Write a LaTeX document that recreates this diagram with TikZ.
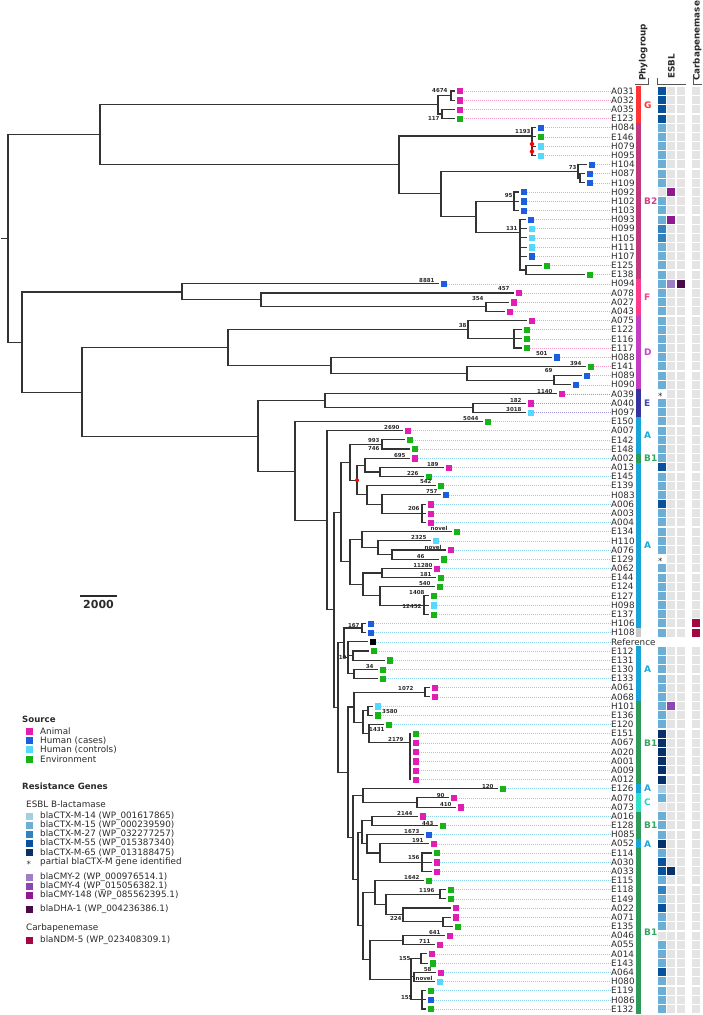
\documentclass[tikz,border=0pt]{standalone}
\usepackage{fontspec}
\setmainfont{DejaVu Sans}
\usetikzlibrary{shapes.geometric}
% source colours
\definecolor{cAn}{HTML}{E11DB4}
\definecolor{cHc}{HTML}{1A5FE0}
\definecolor{cHk}{HTML}{55D8FF}
\definecolor{cEnv}{HTML}{17B317}
\definecolor{cRef}{HTML}{000000}
\definecolor{cGy}{HTML}{E4E4E4}
\colorlet{cnone}{white}
% resistance genes
\definecolor{cK14}{HTML}{A6CEE3}
\definecolor{cK15}{HTML}{6BAED6}
\definecolor{cK27}{HTML}{3182BD}
\definecolor{cK55}{HTML}{08519C}
\definecolor{cK65}{HTML}{08306B}
\definecolor{cC2}{HTML}{9E7FC5}
\definecolor{cC4}{HTML}{8E45B0}
\definecolor{cC148}{HTML}{8F1A8F}
\definecolor{cD1}{HTML}{4A0A4A}
\definecolor{cNd5}{HTML}{A10741}
% phylogroups
\definecolor{pgG}{HTML}{FF3434}
\definecolor{pgB}{HTML}{C2367C}
\definecolor{pgF}{HTML}{FF3A8C}
\definecolor{pgD}{HTML}{C43EC2}
\definecolor{pgE}{HTML}{37339E}
\definecolor{pgA}{HTML}{17A4D8}
\definecolor{pgBi}{HTML}{2D9A5A}
\definecolor{pgC}{HTML}{2EE0C8}
\definecolor{pgN}{HTML}{C9C9C9}
\definecolor{lbG}{HTML}{FF3030}
\definecolor{lbB}{HTML}{D23F88}
\definecolor{lbF}{HTML}{FF3D8E}
\definecolor{lbD}{HTML}{C742C7}
\definecolor{lbE}{HTML}{4743B5}
\definecolor{lbA}{HTML}{19A9DF}
\definecolor{lbBi}{HTML}{33A862}
\definecolor{lbC}{HTML}{25D5C3}
\definecolor{dotP}{HTML}{F4A0C8}
\definecolor{dotE}{HTML}{9C94D8}
\definecolor{dotA}{HTML}{8DD3EE}
\definecolor{treeline}{HTML}{333333}
\definecolor{labgrey}{HTML}{2A2A2A}

\begin{document}
\begin{tikzpicture}[x=1pt,y=-1pt,
  declare function={ry(\k)=91+(\k-1)*9.18;},
  br/.style={draw=treeline,line width=1.1pt,line cap=rect},
  srcsq/.style={rectangle,minimum size=7.2pt,inner sep=0pt,draw=white,line width=0.3pt},
  esq/.style={rectangle,minimum size=8pt,inner sep=0pt},
  tiplab/.style={anchor=west,inner sep=0pt,text=labgrey,font=\fontsize{8.8}{9}\selectfont},
  tipdot/.style={line width=0.5pt,dash pattern=on 0.8pt off 1.2pt},
  bsl/.style={anchor=east,inner sep=0.3pt,text=labgrey,font=\fontsize{5.5}{6}\bfseries},
  grplab/.style={anchor=west,inner sep=0pt,font=\fontsize{9}{10}\bfseries},
  hdr/.style={rotate=90,anchor=base west,inner sep=0pt,text=labgrey,font=\fontsize{8.8}{10}\bfseries},
  hdrline/.style={draw=labgrey!80,line width=1pt},
  legh/.style={anchor=west,inner sep=0pt,text=labgrey,font=\fontsize{8.6}{9}\bfseries},
  legt/.style={anchor=west,inner sep=0pt,text=labgrey,font=\fontsize{8.8}{9}\selectfont},
  lsq/.style={rectangle,minimum size=7pt,inner sep=0pt},
  rdiam/.style={diamond,fill=red,inner sep=0pt,minimum width=5pt,minimum height=7pt},
  rdot/.style={circle,fill=red,inner sep=0pt,minimum size=4pt}]
\useasboundingbox (0,0) rectangle (702,1015);

% root
\draw[br] (2,{ry(17.05)}) -- (8,{ry(17.05)});
\draw[br] (8,{ry(5.78)}) -- (8,{ry(28.35)});

% internal nodes: parent x / x / row / top row / bottom row
\foreach \px/\x/\r/\t/\b in {
  8/100/5.78/2.5/9.05, 100/438/2.5/1.5/3.5, 438/451/1.5/1/2, 438/442/3.5/3/4,
  100/399/9.05/5.9/12.2, 399/532/5.9/5/8, 399/441/12.2/9.75/14.7,
  441/578/9.75/9/10.5, 578/580/10.5/10/11, 441/476/14.7/13/16.4,
  476/514/13/12/14, 476/520/16.4/15/20.5, 520/526/20.5/20/21,
  8/22/28.35/22.9/33.8, 22/182/22.9/22/23.75, 182/261/23.75/23/24.5,
  261/486/24.5/24/25, 22/82/33.8/28.95/38.6, 82/228/28.95/27/30.9,
  228/468/27/26/28, 468/514/28/27/29, 228/331/30.9/30/31.75,
  331/467/31.75/31/32.5, 467/554/32.5/32/33, 82/258/38.6/34.75/42.4,
  258/325/34.75/34/35.5, 325/473/35.5/35/36, 258/295/42.4/37/47.75,
  295/327/47.75/38/57.5, 327/334/57.5/46.9/68.15, 334/341/46.9/41.45/52.3,
  341/350/41.45/39.5/43.4, 350/382/39.5/39/40, 350/357/43.4/41.75/45,
  357/365/41.75/41/42.5, 365/380/42.5/42/43, 357/367/45/44/46,
  367/382/46/45/47, 382/422/47/46/48, 341/350/52.3/49.9/54.75,
  350/362/49.9/49/50.75, 362/378/50.75/50/51.5, 378/392/51.5/51/52,
  350/363/54.75/53.5/56, 363/382/53.5/53/54, 363/380/56/55/57,
  380/424/57/56/58, 334/338/68.15/61.1/75.2, 338/344/61.1/59.5/62.75,
  344/362/59.5/59/60, 344/348/62.75/61/64.5, 348/353/62.5/62/63,
  348/354/64.5/64/65, 338/348/75.2/68.1/82.3, 348/354/68.1/66.5/69.75,
  354/425/66.5/66/67, 354/363/69.75/68.5/71, 363/368/68.5/68/69,
  363/369/71/70/72, 369/410/72/71/76, 348/353/82.3/77.75/86.85,
  353/363/77.75/77/78.5, 363/417/78.5/78/79, 353/358/86.85/81.75/91.95,
  358/362/81.75/80.5/83, 362/372/80.5/80/81, 362/367/83/82/84,
  367/380/84/83/85, 380/422/85/84/86, 358/363/91.95/88.3/95.6,
  363/375/88.3/87/89.6, 375/386/89.6/88.5/90.75, 386/440/88.5/88/89,
  386/403/90.75/90/91.5, 403/443/91.5/91/92, 363/370/95.6/93.5/97.75,
  370/403/93.5/93/94, 370/411/97.75/95.5/100, 411/421/95.5/95/96,
  411/414/97.5/97/98, 411/422/100/99/101}{
  \draw[br] (\px,{ry(\r)}) -- (\x,{ry(\r)});
  \draw[br] (\x,{ry(\t)}) -- (\x,{ry(\b)});
}

% tips: row / name / source / parent x / square x / ESBL 1-3 / carbapenemase
\foreach \r/\nm/\s/\px/\sx/\ea/\eb/\ec/\cb in {
1/A031/An/451/460/K55/Gy/Gy/Gy, 2/A032/An/451/460/K55/Gy/Gy/Gy,
3/A035/An/442/460/K55/Gy/Gy/Gy, 4/E123/Env/442/460/K55/Gy/Gy/Gy,
5/H084/Hc/532/541/K15/Gy/Gy/Gy, 6/E146/Env/532/541/K15/Gy/Gy/Gy,
7/H079/Hk/532/541/K15/Gy/Gy/Gy, 8/H095/Hk/532/541/K15/Gy/Gy/Gy,
9/H104/Hc/578/591.5/K15/Gy/Gy/Gy, 10/H087/Hc/580/589.5/K15/Gy/Gy/Gy,
11/H109/Hc/580/589.5/K15/Gy/Gy/Gy, 12/H092/Hc/514/523.5/Gy/C148/Gy/Gy,
13/H102/Hc/514/523.5/K15/Gy/Gy/Gy, 14/H103/Hc/514/523.5/K15/Gy/Gy/Gy,
15/H093/Hc/520/530.5/K15/C148/Gy/Gy, 16/H099/Hk/520/531.5/K27/Gy/Gy/Gy,
17/H105/Hk/520/531.5/K27/Gy/Gy/Gy, 18/H111/Hk/520/531.5/K15/Gy/Gy/Gy,
19/H107/Hc/520/531.5/K15/Gy/Gy/Gy, 20/E125/Env/526/546.5/K15/Gy/Gy/Gy,
21/E138/Env/526/589.5/K15/Gy/Gy/Gy, 22/H094/Hc/182/443.5/K15/C2/D1/Gy,
23/A078/An/261/518.5/K15/Gy/Gy/Gy, 24/A027/An/486/513.5/K15/Gy/Gy/Gy,
25/A043/An/486/509.5/K15/Gy/Gy/Gy, 26/A075/An/468/531.5/K15/Gy/Gy/Gy,
27/E122/Env/514/526.5/K15/Gy/Gy/Gy, 28/E116/Env/514/526.5/K15/Gy/Gy/Gy,
29/E117/Env/514/526.5/K15/Gy/Gy/Gy, 30/H088/Hc/331/556.5/K15/Gy/Gy/Gy,
31/E141/Env/467/590.5/K15/Gy/Gy/Gy, 32/H089/Hc/554/586.5/K15/Gy/Gy/Gy,
33/H090/Hc/554/575.5/K15/Gy/Gy/Gy, 34/A039/An/325/561.5/none/Gy/Gy/Gy,
35/A040/An/473/530.5/K15/Gy/Gy/Gy, 36/H097/Hk/473/530.5/K15/Gy/Gy/Gy,
37/E150/Env/295/487.5/K15/Gy/Gy/Gy, 38/A007/An/327/407.5/K15/Gy/Gy/Gy,
39/E142/Env/382/409.5/K15/Gy/Gy/Gy, 40/E148/Env/382/414.5/K15/Gy/Gy/Gy,
41/A002/An/365/414.5/K15/Gy/Gy/Gy, 42/A013/An/380/448.5/K55/Gy/Gy/Gy,
43/E145/Env/380/428.5/K15/Gy/Gy/Gy, 44/E139/Env/367/440.5/K15/Gy/Gy/Gy,
45/H083/Hc/382/445.5/K15/Gy/Gy/Gy, 46/A006/An/422/430.5/K55/Gy/Gy/Gy,
47/A003/An/422/430.5/K15/Gy/Gy/Gy, 48/A004/An/422/430.5/K15/Gy/Gy/Gy,
49/E134/Env/362/456.5/K15/Gy/Gy/Gy, 50/H110/Hk/378/435.5/K15/Gy/Gy/Gy,
51/A076/An/392/450.5/K15/Gy/Gy/Gy, 52/E129/Env/392/443.5/none/Gy/Gy/Gy,
53/A062/An/382/436.5/K15/Gy/Gy/Gy, 54/E144/Env/382/440.5/K15/Gy/Gy/Gy,
55/E124/Env/380/439.5/K15/Gy/Gy/Gy, 56/E127/Env/424/433.5/K15/Gy/Gy/Gy,
57/H098/Hk/424/433.5/K15/Gy/Gy/Gy, 58/E137/Env/424/433.5/K15/Gy/Gy/Gy,
59/H106/Hc/362/370.5/K15/Gy/Gy/Nd5, 60/H108/Hc/362/370.5/K15/Gy/Gy/Nd5,
61/Reference/Ref/348/372.5/none/none/none/none,
62/E112/Env/353/373.5/K15/Gy/Gy/Gy, 63/E131/Env/353/389.5/K15/Gy/Gy/Gy,
64/E130/Env/354/382.5/K15/Gy/Gy/Gy, 65/E133/Env/354/382.5/K15/Gy/Gy/Gy,
66/A061/An/425/434.5/K15/Gy/Gy/Gy, 67/A068/An/425/434.5/K15/Gy/Gy/Gy,
68/H101/Hk/368/377.5/K15/C4/Gy/Gy, 69/E136/Env/368/377.5/K15/Gy/Gy/Gy,
70/E120/Env/369/388.5/K15/Gy/Gy/Gy, 71/E151/Env/410/415.5/K65/Gy/Gy/Gy,
72/A067/An/410/415.5/K65/Gy/Gy/Gy, 73/A020/An/410/415.5/K65/Gy/Gy/Gy,
74/A001/An/410/415.5/K65/Gy/Gy/Gy, 75/A009/An/410/415.5/K65/Gy/Gy/Gy,
76/A012/An/410/415.5/K65/Gy/Gy/Gy, 77/E126/Env/363/502.5/K14/Gy/Gy/Gy,
78/A070/An/417/453.5/K15/Gy/Gy/Gy, 79/A073/An/417/460.5/Gy/Gy/Gy/Gy,
80/A016/An/372/422.5/K15/Gy/Gy/Gy, 81/E128/Env/372/442.5/K15/Gy/Gy/Gy,
82/H085/Hc/367/428.5/K15/Gy/Gy/Gy, 83/A052/An/380/433.5/K65/Gy/Gy/Gy,
84/E114/Env/422/436.5/K15/Gy/Gy/Gy, 85/A030/An/422/436.5/K55/Gy/Gy/Gy,
86/A033/An/422/436.5/K55/K65/Gy/Gy, 87/E115/Env/375/428.5/K15/Gy/Gy/Gy,
88/E118/Env/440/450.5/K27/Gy/Gy/Gy, 89/E149/Env/440/450.5/K15/Gy/Gy/Gy,
90/A022/An/403/455.5/K55/Gy/Gy/Gy, 91/A071/An/443/455.5/K15/Gy/Gy/Gy,
92/E135/Env/443/457.5/K15/Gy/Gy/Gy, 93/A046/An/403/449.5/Gy/Gy/Gy/Gy,
94/A055/An/403/439.5/K15/Gy/Gy/Gy, 95/A014/An/421/431.5/K15/Gy/Gy/Gy,
96/E143/Env/421/432.5/K15/Gy/Gy/Gy, 97/A064/An/414/440.5/K55/Gy/Gy/Gy,
98/H080/Hk/414/439.5/K15/Gy/Gy/Gy, 99/E119/Env/422/430.5/K15/Gy/Gy/Gy,
100/H086/Hc/422/430.5/K15/Gy/Gy/Gy, 101/E132/Env/422/430.5/K15/Gy/Gy/Gy}{
  \draw[br] (\px,{ry(\r)}) -- ({\sx-5.5},{ry(\r)});
  \node[srcsq,fill=c\s] (s\r) at (\sx,{ry(\r)}) {};
  \node[tiplab] (l\r) at (611,{ry(\r)}) {\nm};
  \ifnum\r<34 \def\dc{dotP}\else\ifnum\r<37 \def\dc{dotE}\else\def\dc{dotA}\fi\fi
  \draw[tipdot,draw=\dc] (s\r.east) -- (l\r.west);
  \node[esq,fill=c\ea] (ea\r) at (661.5,{ry(\r)}) {};
  \node[esq,fill=c\eb] (eb\r) at (671.3,{ry(\r)}) {};
  \node[esq,fill=c\ec] (ec\r) at (680.8,{ry(\r)}) {};
  \node[esq,fill=c\cb] (cb\r) at (696.3,{ry(\r)}) {};
}
\node[legt] (ast34) at (658,{ry(34)+2}) {*};
\node[legt] (ast52) at (658,{ry(52)+2}) {*};

% markers
\node[rdiam] (rd1) at (532,144) {};
\node[rdiam] (rd2) at (532,151.5) {};
\node[rdot] (rn) at (357,{ry(43.4)}) {};

% bootstrap values
\foreach \x/\y/\t [count=\i] in {
  448/90/4674, 440/118/117, 531/131/1193, 577/167/73, 513/195/95, 518/228/131,
  435/280/8881, 510/289/457, 484/298/354, 467/325/38, 548/353/501, 582/363/394,
  553/370/69, 553/391/1140, 522/400/182, 522/409/3018, 479/418/5044,
  400/427/2690, 380/440.5/993, 380/448.5/746, 406/455/695, 439/464/189,
  419/473/226, 432/481/542, 438/492/757, 420/508/206, 448/528/novel,
  427/537/2325, 442/547/novel, 425/556/46, 433/565/11280, 432/574/181,
  431/583/540, 425/592/1408, 422/606/12452, 360/625/167, 347/657/10,
  374/666/34, 414/688/1072, 398/711/3580, 385/729/1431, 404/739/2179,
  494/786/120, 445/795/90, 452/804/410, 413/813/2144, 434/823/443,
  420/831/1673, 424/840/191, 420/857/156, 420/877/1642, 435/890/1196,
  402/918/224, 441/932/641, 431/941/711, 411/959/155, 432/969/58,
  433/978/novel, 413/998/155}{
  \node[bsl] (bs\i) at (\x,\y) {\t};
}

% phylogroup strip
\foreach \a/\b/\c in {1/4/pgG, 5/21/pgB, 22/25/pgF, 26/33/pgD, 34/36/pgE,
  37/40/pgA, 41/41/pgBi, 42/59/pgA, 60/60/pgN, 62/67/pgA, 68/76/pgBi,
  77/77/pgA, 78/79/pgC, 80/82/pgBi, 83/83/pgA, 84/101/pgBi}{
  \fill[\c] (635.5,{ry(\a)-4.59}) rectangle (641,{ry(\b)+4.59});
}
\foreach \r/\t/\c [count=\i] in {2.5/G/lbG, 13/B2/lbB, 23.5/F/lbF, 29.5/D/lbD,
  35/E/lbE, 38.5/A/lbA, 41/B1/lbBi, 50.5/A/lbA, 64/A/lbA, 72/B1/lbBi, 77/A/lbA,
  78.5/C/lbC, 81/B1/lbBi, 83/A/lbA, 92.6/B1/lbBi}{
  \node[grplab,text=\c] (grp\i) at (644,{ry(\r)}) {\t};
}

% column headers
\node[hdr] (hpg) at (645.5,81) {Phylogroup};
\node[hdr] (hesbl) at (674.5,79) {ESBL};
\node[hdr] (hcarb) at (699.5,81) {Carbapenemase};
\draw[hdrline] (635,84) -- (648.5,84) -- (648.5,78);
\draw[hdrline] (657,78) -- (657,84) -- (686,84);
\draw[hdrline] (693,78) -- (693,84) -- (702,84);

% scale bar
\draw[line width=1.1pt,draw=labgrey] (80,596) -- (117,596);
\node[inner sep=0pt,text=labgrey,font=\fontsize{11}{12}\bfseries] (scl) at (98.5,604.5) {2000};

% legend
\node[legh] (lgsrc) at (22,719) {Source};
\foreach \y/\c/\t [count=\i] in {731.5/cAn/Animal, 740.7/cHc/Human (cases),
  749.9/cHk/Human (controls), 759.1/cEnv/Environment}{
  \node[lsq,fill=\c] (lq\i) at (29.5,\y) {};
  \node[legt] (lt\i) at (40,\y) {\t};
}
\node[legh] (lgres) at (22,786) {Resistance Genes};
\node[legt] (lgesbl) at (26,804) {ESBL B-lactamase};
\foreach \y/\c/\t [count=\i] in {816/cK14/blaCTX-M-14 (WP\_001617865),
  825.2/cK15/blaCTX-M-15 (WP\_000239590), 834.4/cK27/blaCTX-M-27 (WP\_032277257),
  843.6/cK55/blaCTX-M-55 (WP\_015387340), 852.8/cK65/blaCTX-M-65 (WP\_013188475),
  877/cC2/blaCMY-2 (WP\_000976514.1), 886.2/cC4/blaCMY-4 (WP\_015056382.1),
  895.4/cC148/blaCMY-148 (WP\_085562395.1), 909/cD1/blaDHA-1 (WP\_004236386.1),
  940/cNd5/blaNDM-5 (WP\_023408309.1)}{
  \node[lsq,fill=\c] (gq\i) at (29.5,\y) {};
  \node[legt] (gt\i) at (40,\y) {\t};
}
\node[legt] (gast) at (26.5,864) {*};
\node[legt] (gastt) at (40,862) {partial blaCTX-M gene identified};
\node[legt] (lgcarb) at (26,928) {Carbapenemase};
\end{tikzpicture}
\end{document}
